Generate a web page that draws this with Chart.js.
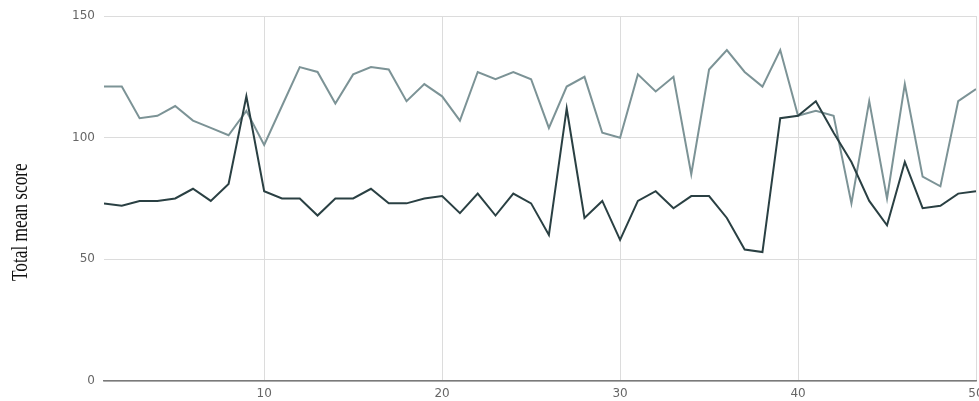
<!DOCTYPE html>
<html>
<head>
<meta charset="utf-8">
<script src="https://cdn.jsdelivr.net/npm/chart.js@4/dist/chart.umd.min.js"></script>
<style>
  html, body { margin: 0; padding: 0; background: #ffffff; overflow: hidden; }
  canvas { display: block; }
</style>
</head>
<body>
<canvas id="chart" width="979" height="401"></canvas>
<script>
// Item number along the x axis
const items = [1, 2, 3, 4, 5, 6, 7, 8, 9, 10,
  11, 12, 13, 14, 15, 16, 17, 18, 19, 20,
  21, 22, 23, 24, 25, 26, 27, 28, 29, 30,
  31, 32, 33, 34, 35, 36, 37, 38, 39, 40,
  41, 42, 43, 44, 45, 46, 47, 48, 49, 50];

// Upper (light) series
const seriesLight = [121, 121, 108, 109, 113, 107, 104, 101, 111, 97,
  113, 129, 127, 114, 126, 129, 128, 115, 122, 117,
  107, 127, 124, 127, 124, 104, 121, 125, 102, 100,
  126, 119, 125, 85, 128, 136, 127, 121, 136, 109,
  111, 109, 73, 115, 75, 122, 84, 80, 115, 120];

// Lower (dark) series
const seriesDark = [73, 72, 74, 74, 75, 79, 74, 81, 117, 78,
  75, 75, 68, 75, 75, 79, 73, 73, 75, 76,
  69, 77, 68, 77, 73, 60, 112, 67, 74, 58,
  74, 78, 71, 76, 76, 67, 54, 53, 108, 109,
  115, 102, 90, 74, 64, 90, 71, 72, 77, 78];

const xTickValues = [10, 20, 30, 40, 50];
const yTickValues = [0, 50, 100, 150];
const yTitle = 'Total mean score';

const toPoints = vals => items.map((x, i) => ({ x: x, y: vals[i] }));

// Rotated, narrow serif caption for the value axis
const yTitlePlugin = {
  id: 'yTitle',
  afterDraw(chart) {
    const ctx = chart.ctx;
    ctx.save();
    ctx.translate(27, 281);
    ctx.rotate(-Math.PI / 2);
    ctx.scale(0.72, 1);
    ctx.font = '24px "Liberation Serif", "Times New Roman", serif';
    ctx.fillStyle = '#111111';
    ctx.textAlign = 'left';
    ctx.textBaseline = 'alphabetic';
    ctx.fillText(yTitle, 0, 0);
    ctx.restore();
  }
};

new Chart(document.getElementById('chart'), {
  type: 'line',
  data: {
    datasets: [
      {
        data: toPoints(seriesDark),
        borderColor: '#2a4043',
        borderWidth: 2,
        pointRadius: 0,
        tension: 0,
        fill: false
      },
      {
        data: toPoints(seriesLight),
        borderColor: '#7c9396',
        borderWidth: 2,
        pointRadius: 0,
        tension: 0,
        fill: false
      }
    ]
  },
  options: {
    responsive: false,
    animation: false,
    events: [],
    layout: { padding: { left: 0, top: 16, right: 3, bottom: 0 } },
    plugins: {
      legend: { display: false },
      title: { display: false },
      tooltip: { enabled: false }
    },
    scales: {
      x: {
        type: 'linear',
        min: 1,
        max: 50,
        afterBuildTicks: s => { s.ticks = xTickValues.map(v => ({ value: v })); },
        afterFit: s => { s.height = 20; s.paddingLeft = 0; s.paddingRight = 0; },
        grid: { color: '#dcdcdc', lineWidth: 1, drawTicks: false },
        border: { display: true, color: '#7a7a7a', width: 1.5 },
        ticks: {
          padding: 6,
          color: '#666666',
          font: { family: '"DejaVu Sans", sans-serif', size: 12 },
          maxRotation: 0
        }
      },
      y: {
        min: 0,
        max: 150,
        afterBuildTicks: s => { s.ticks = yTickValues.map(v => ({ value: v })); },
        afterFit: s => { s.width = 104; s.paddingTop = 0; s.paddingBottom = 0; },
        grid: { color: '#dcdcdc', lineWidth: 1, drawTicks: false },
        border: { display: false },
        ticks: {
          padding: 9,
          color: '#666666',
          font: { family: '"DejaVu Sans", sans-serif', size: 12 }
        }
      }
    }
  },
  plugins: [yTitlePlugin]
});
</script>
</body>
</html>
